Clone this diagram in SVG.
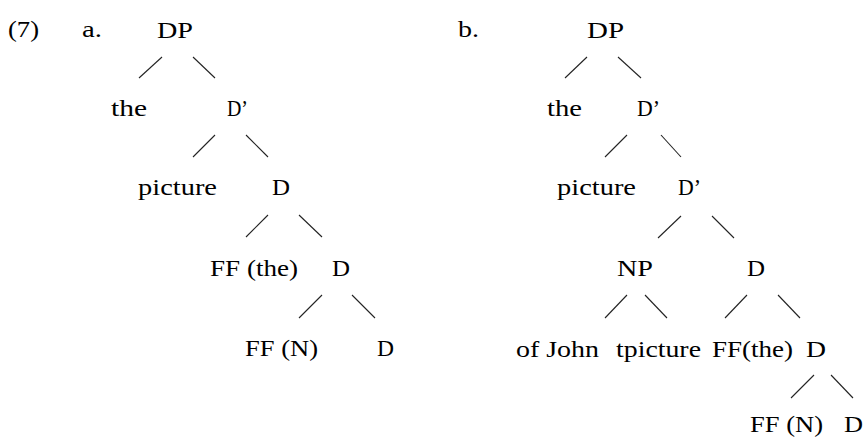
<svg xmlns="http://www.w3.org/2000/svg" width="867" height="438" viewBox="0 0 867 438">
  <style>
    text { font-family: "Liberation Serif", "Times New Roman", serif; font-size: 23.5px; fill: #000; }
    .edge { stroke: #222; stroke-width: 1.1; fill: none; }
  </style>
  <rect width="867" height="438" fill="#fff"/>

  <!-- example number and sub-labels -->
  <g id="labels">
    <text x="8" y="37" textLength="31" lengthAdjust="spacingAndGlyphs">(7)</text>
    <text x="82" y="37" textLength="20" lengthAdjust="spacingAndGlyphs">a.</text>
    <text x="458" y="37" textLength="21" lengthAdjust="spacingAndGlyphs">b.</text>
  </g>

  <!-- tree (a) -->
  <g id="a-DP"><text x="157" y="38" textLength="36" lengthAdjust="spacingAndGlyphs">DP</text></g>
  <g id="a-the"><text x="111" y="116" textLength="36" lengthAdjust="spacingAndGlyphs">the</text></g>
  <g id="a-Dbar"><text x="227" y="116" textLength="21" lengthAdjust="spacingAndGlyphs">D’</text></g>
  <g id="a-picture"><text x="138" y="195" textLength="79" lengthAdjust="spacingAndGlyphs">picture</text></g>
  <g id="a-D1"><text x="272" y="195" textLength="18" lengthAdjust="spacingAndGlyphs">D</text></g>
  <g id="a-FFthe"><text x="210" y="276" textLength="88" lengthAdjust="spacingAndGlyphs">FF (the)</text></g>
  <g id="a-D2"><text x="332" y="276" textLength="18" lengthAdjust="spacingAndGlyphs">D</text></g>
  <g id="a-FFN"><text x="245" y="356" textLength="73" lengthAdjust="spacingAndGlyphs">FF (N)</text></g>
  <g id="a-D3"><text x="377" y="356" textLength="17" lengthAdjust="spacingAndGlyphs">D</text></g>

  <!-- tree (b) -->
  <g id="b-DP"><text x="587" y="38" textLength="37" lengthAdjust="spacingAndGlyphs">DP</text></g>
  <g id="b-the"><text x="547" y="116" textLength="35" lengthAdjust="spacingAndGlyphs">the</text></g>
  <g id="b-Dbar1"><text x="637" y="116" textLength="23" lengthAdjust="spacingAndGlyphs">D’</text></g>
  <g id="b-picture"><text x="557" y="195" textLength="79" lengthAdjust="spacingAndGlyphs">picture</text></g>
  <g id="b-Dbar2"><text x="678" y="195" textLength="23" lengthAdjust="spacingAndGlyphs">D’</text></g>
  <g id="b-NP"><text x="617" y="276" textLength="36" lengthAdjust="spacingAndGlyphs">NP</text></g>
  <g id="b-D1"><text x="747" y="276" textLength="18" lengthAdjust="spacingAndGlyphs">D</text></g>
  <g id="b-ofJohn"><text x="516" y="357" textLength="83" lengthAdjust="spacingAndGlyphs">of John</text></g>
  <g id="b-tpicture"><text x="616" y="357" textLength="85" lengthAdjust="spacingAndGlyphs">tpicture</text></g>
  <g id="b-FFthe"><text x="712" y="357" textLength="81" lengthAdjust="spacingAndGlyphs">FF(the)</text></g>
  <g id="b-D2"><text x="806" y="357" textLength="20" lengthAdjust="spacingAndGlyphs">D</text></g>
  <g id="b-FFN"><text x="750" y="432" textLength="73" lengthAdjust="spacingAndGlyphs">FF (N)</text></g>
  <g id="b-D3"><text x="844" y="432" textLength="19" lengthAdjust="spacingAndGlyphs">D</text></g>

  <!-- branches -->
  <g id="connectors" class="edge">
    <line x1="162" y1="57" x2="139" y2="78"/>
    <line x1="193" y1="57" x2="215" y2="78"/>
    <line x1="215" y1="135" x2="193" y2="157"/>
    <line x1="246" y1="135" x2="268" y2="157"/>
    <line x1="268" y1="215" x2="246" y2="237"/>
    <line x1="299" y1="215" x2="322" y2="237"/>
    <line x1="322" y1="295" x2="299" y2="318"/>
    <line x1="352" y1="295" x2="375" y2="318"/>

    <line x1="587" y1="57" x2="565" y2="78"/>
    <line x1="618" y1="57" x2="641" y2="78"/>
    <line x1="627" y1="135" x2="605" y2="157"/>
    <line x1="661" y1="135" x2="681" y2="157"/>
    <line x1="681" y1="216" x2="658" y2="238"/>
    <line x1="712" y1="216" x2="734" y2="238"/>
    <line x1="627" y1="295" x2="605" y2="318"/>
    <line x1="645" y1="295" x2="667" y2="318"/>
    <line x1="747" y1="295" x2="725" y2="318"/>
    <line x1="778" y1="295" x2="800" y2="318"/>
    <line x1="814" y1="375" x2="791" y2="398"/>
    <line x1="831" y1="375" x2="853" y2="398"/>
  </g>
</svg>
